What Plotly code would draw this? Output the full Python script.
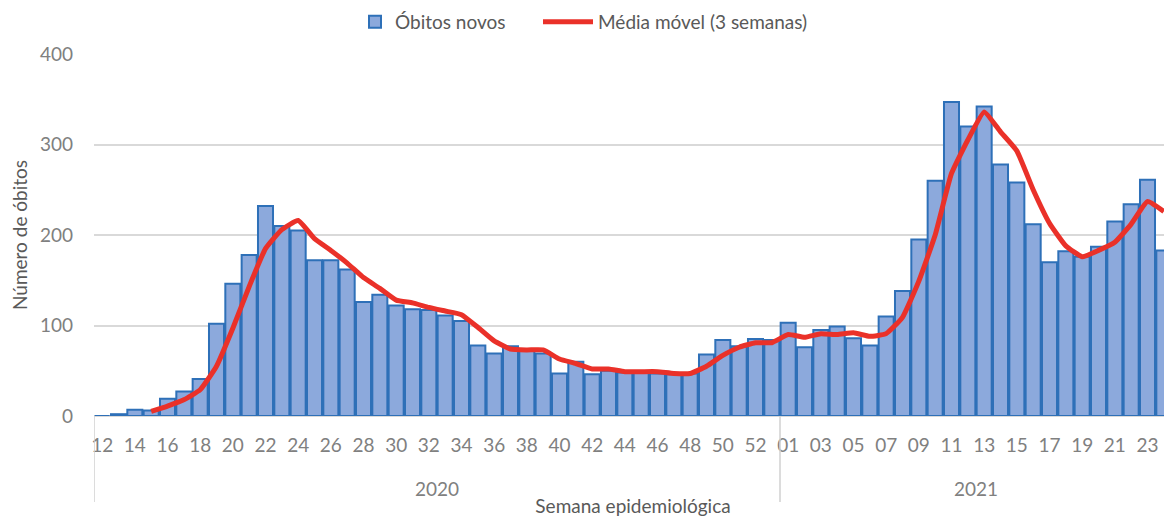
import plotly.graph_objects as go

# Epidemiological weeks (2020: 12-53, 2021: 01-24)
weeks_2020 = [str(w) for w in range(12, 54)]
weeks_2021 = ["%02d" % w for w in range(1, 25)]

obitos_2020 = [0, 2, 7, 6, 19, 27, 41, 102, 146, 178, 232, 210, 205, 172, 172, 162,
               126, 134, 122, 118, 117, 111, 105, 78, 69, 77, 72, 69, 47, 60, 46, 50,
               48, 48, 47, 46, 47, 68, 84, 77, 85, 84]
obitos_2021 = [103, 76, 95, 99, 86, 78, 110, 138, 195, 260, 347, 320, 342, 278, 258, 212,
               170, 182, 176, 187, 215, 234, 261, 183]

media_2020 = [None, None, None, 5, 11, 18, 29, 55, 97, 143, 185, 206, 216, 196, 183, 169,
              153, 141, 128, 125, 120, 116, 112, 98, 83, 74, 73, 73, 63, 58, 52, 52,
              49, 49, 49, 47, 47, 55, 67, 76, 81, 81]
media_2021 = [90, 87, 91, 90, 92, 88, 91, 109, 149, 200, 268, 305, 336, 314, 293, 250,
              213, 188, 176, 183, 192, 212, 237, 226]

years = ["2020", "2021"]
y_ticks = [0, 100, 200, 300, 400]

cats = ["%s-%s" % (years[0], w) for w in weeks_2020] + ["%s-%s" % (years[1], w) for w in weeks_2021]
week_labels = weeks_2020 + weeks_2021
obitos = obitos_2020 + obitos_2021
media = media_2020 + media_2021

tick_vals = cats[0::2]
tick_text = week_labels[0::2]

FONT = "Lato"
GRAY = "#808080"
DARK = "#595959"

fig = go.Figure()
fig.add_trace(go.Bar(
    x=cats, y=obitos, name="Óbitos novos", legend="legend",
    marker=dict(color="#8CA9DC", line=dict(color="#2E70B8", width=2)),
))
fig.add_trace(go.Scatter(
    x=cats, y=media, name="Média móvel (3 semanas)", mode="lines", legend="legend2",
    line=dict(color="#EA3129", width=5, shape="spline", smoothing=0.4),
    connectgaps=False,
))

n2020 = len(weeks_2020)
ntot = len(cats)
W, H = 1164, 511
ML, MR, MT, MB = 86, 0, 46, 103
plot_h = H - MT - MB
plot_w = W - ML - MR
div_y = -86 / plot_h
leg_y = 1 + 32 / plot_h

shapes = []
for xpos in (-0.5, n2020 - 0.5):
    shapes.append(dict(type="line", xref="x", yref="paper", x0=xpos, x1=xpos,
                       y0=0, y1=div_y, line=dict(color="#D0D0D0", width=1.5)))

annotations = [
    dict(text=years[0], xref="x", yref="paper", x=(n2020 - 1) / 2, y=0, yshift=-72,
         showarrow=False, font=dict(family=FONT, size=19, color=GRAY), yanchor="middle"),
    dict(text=years[1], xref="x", yref="paper", x=n2020 + (ntot - n2020 - 1) / 2, y=0, yshift=-72,
         showarrow=False, font=dict(family=FONT, size=19, color=GRAY), yanchor="middle"),
]

leg_font = dict(family=FONT, size=19, color=DARK)

fig.update_layout(
    width=W, height=H,
    margin=dict(l=ML, r=MR, t=MT, b=MB, autoexpand=False),
    plot_bgcolor="white", paper_bgcolor="white",
    bargap=0.08,
    font=dict(family=FONT, size=19, color=GRAY),
    shapes=shapes, annotations=annotations,
    showlegend=True,
    legend=dict(orientation="h", x=(347 - ML) / plot_w, xanchor="left",
                y=leg_y, yanchor="middle", font=leg_font, itemwidth=30),
    legend2=dict(orientation="h", x=(530 - ML) / plot_w, xanchor="left",
                 y=leg_y, yanchor="middle", font=leg_font, itemwidth=50),
    xaxis=dict(
        type="category", categoryorder="array", categoryarray=cats,
        range=[-0.5, ntot - 0.5],
        tickmode="array", tickvals=tick_vals, ticktext=tick_text,
        showgrid=False, showline=False, zeroline=False,
        ticks="", ticklabelstandoff=16,
        tickfont=dict(family=FONT, size=19, color=GRAY),
        tickangle=0,
        title=dict(text="Semana epidemiológica", standoff=44,
                   font=dict(family=FONT, size=19, color=DARK)),
        automargin=False,
    ),
    yaxis=dict(
        range=[0, 400], tickvals=y_ticks,
        showgrid=True, gridcolor="#D9D9D9", gridwidth=1.5,
        zeroline=True, zerolinecolor="#D9D9D9", zerolinewidth=1.5,
        showline=False, ticks="", ticklabelstandoff=20,
        tickfont=dict(family=FONT, size=19, color=GRAY),
        title=dict(text="Número de óbitos", standoff=8,
                   font=dict(family=FONT, size=19, color=DARK)),
        automargin=False,
    ),
)

fig.write_html("out.html")
